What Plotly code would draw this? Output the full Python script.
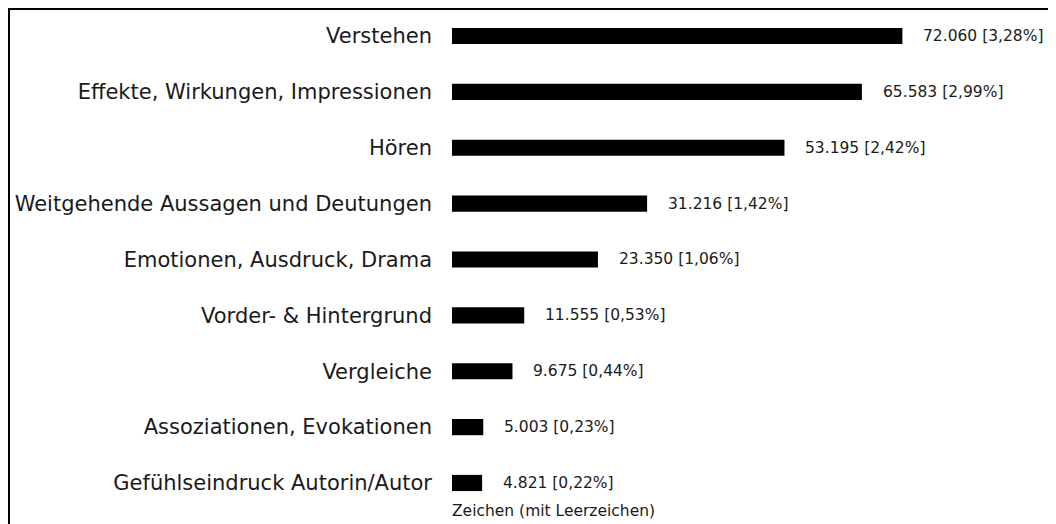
import plotly.graph_objects as go

categories = [
    "Verstehen",
    "Effekte, Wirkungen, Impressionen",
    "Hören",
    "Weitgehende Aussagen und Deutungen",
    "Emotionen, Ausdruck, Drama",
    "Vorder- & Hintergrund",
    "Vergleiche",
    "Assoziationen, Evokationen",
    "Gefühlseindruck Autorin/Autor",
]
values = [72060, 65583, 53195, 31216, 23350, 11555, 9675, 5003, 4821]
labels = [
    "72.060 [3,28%]",
    "65.583 [2,99%]",
    "53.195 [2,42%]",
    "31.216 [1,42%]",
    "23.350 [1,06%]",
    "11.555 [0,53%]",
    "9.675 [0,44%]",
    "5.003 [0,23%]",
    "4.821 [0,22%]",
]
axis_title = "Zeichen (mit Leerzeichen)"

FONT = "DejaVu Sans"
TXT = "#1a1a1a"
W, H = 1056, 524
ML, MT, MB, MR = 444, 0, 37, 0

fig = go.Figure(go.Bar(
    x=values, y=categories, orientation="h",
    marker=dict(color="black", line=dict(width=0)),
    width=0.29,
    hoverinfo="skip",
))

for v, c, t in zip(values, categories, labels):
    fig.add_annotation(x=v, y=c, text=t, xref="x", yref="y",
                       xanchor="left", yanchor="middle", xshift=19,
                       showarrow=False,
                       font=dict(family=FONT, size=15.5, color=TXT))

fig.add_annotation(x=0, y=0, xref="paper", yref="paper", text=axis_title,
                   xanchor="left", yanchor="top", yshift=-5, xshift=-2,
                   showarrow=False,
                   font=dict(family=FONT, size=15.5, color=TXT))

plot_w = W - ML - MR
plot_h = H - MT - MB
fig.add_shape(type="rect", xref="paper", yref="paper",
              x0=(1 - ML) / plot_w, x1=1.2,
              y0=-0.2, y1=(H - MB - 1) / plot_h,
              line=dict(color="black", width=2), fillcolor="rgba(0,0,0,0)",
              layer="above")

fig.update_layout(
    width=W, height=H,
    margin=dict(l=ML, r=MR, t=MT, b=MB, pad=0),
    paper_bgcolor="white", plot_bgcolor="white",
    showlegend=False,
    font=dict(family=FONT, color=TXT),
    xaxis=dict(range=[0, plot_w / 0.00625], visible=False, fixedrange=True),
    yaxis=dict(range=[8.215, -0.501], showgrid=False, zeroline=False,
               showline=False, ticks="", ticklabelstandoff=19,
               tickfont=dict(family=FONT, size=21, color=TXT)),
)

fig.write_html("out.html")
